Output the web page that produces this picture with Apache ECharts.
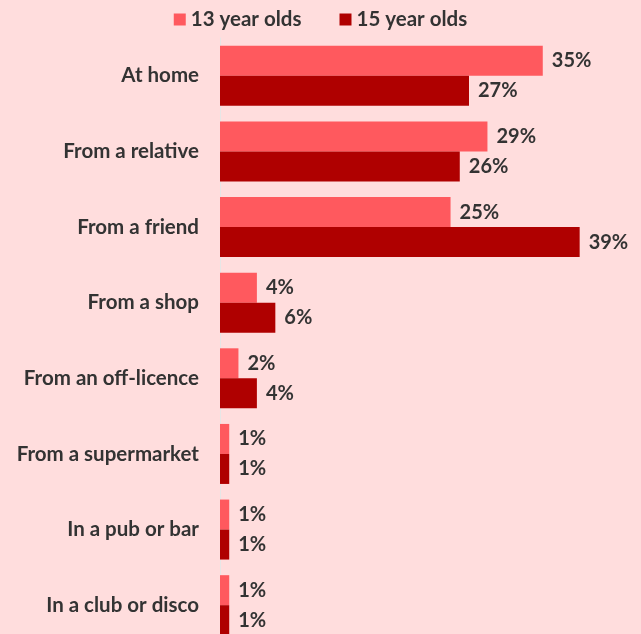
<!DOCTYPE html>
<html>
<head>
<meta charset="utf-8">
<script src="https://cdn.jsdelivr.net/npm/echarts@6/dist/echarts.min.js"></script>
<style>
  html, body { margin: 0; padding: 0; background: #ffdddd; }
  #chart { width: 641px; height: 634px; }
</style>
</head>
<body>
<div id="chart"></div>
<script>
var categories = ['At home', 'From a relative', 'From a friend', 'From a shop', 'From an off-licence', 'From a supermarket', 'In a pub or bar', 'In a club or disco'];
var age13 = [35, 29, 25, 4, 2, 1, 1, 1];
var age15 = [27, 26, 39, 6, 4, 1, 1, 1];

var chart = echarts.init(document.getElementById('chart'));
var font = 'Lato, "Open Sans", sans-serif';
var labelStyle = {
    show: true,
    position: 'right',
    distance: 9,
    formatter: '{c}%',
    fontFamily: font,
    fontWeight: 'bold',
    fontSize: 20,
    color: '#333'
};
var option = {
    backgroundColor: '#ffdddd',
    animation: false,
    legend: {
        top: 4,
        left: 'center',
        itemWidth: 12,
        itemHeight: 12,
        itemGap: 38,
        icon: 'rect',
        textStyle: {fontFamily: font, fontWeight: 'bold', fontSize: 20.5, color: '#333'},
        data: ['13 year olds', '15 year olds']
    },
    grid: {
        left: 220,
        top: 38,
        width: 415,
        height: 605,
        outerBoundsMode: 'none'
    },
    xAxis: {
        type: 'value',
        min: 0,
        max: 45,
        show: false
    },
    yAxis: {
        type: 'category',
        inverse: true,
        data: categories,
        axisLine: {lineStyle: {color: '#e6e6e6', width: 1}},
        axisTick: {show: false},
        axisLabel: {
            margin: 21,
            fontFamily: font,
            fontWeight: 'bold',
            fontSize: 20.5,
            color: '#333'
        }
    },
    series: [
        {
            name: '13 year olds',
            type: 'bar',
            data: age13,
            barWidth: 30,
            barGap: '0%',
            itemStyle: {color: '#ff595e'},
            label: labelStyle
        },
        {
            name: '15 year olds',
            type: 'bar',
            data: age15,
            barWidth: 30,
            barGap: '0%',
            itemStyle: {color: '#af0000'},
            label: labelStyle
        }
    ]
};
chart.setOption(option);
</script>
</body>
</html>
